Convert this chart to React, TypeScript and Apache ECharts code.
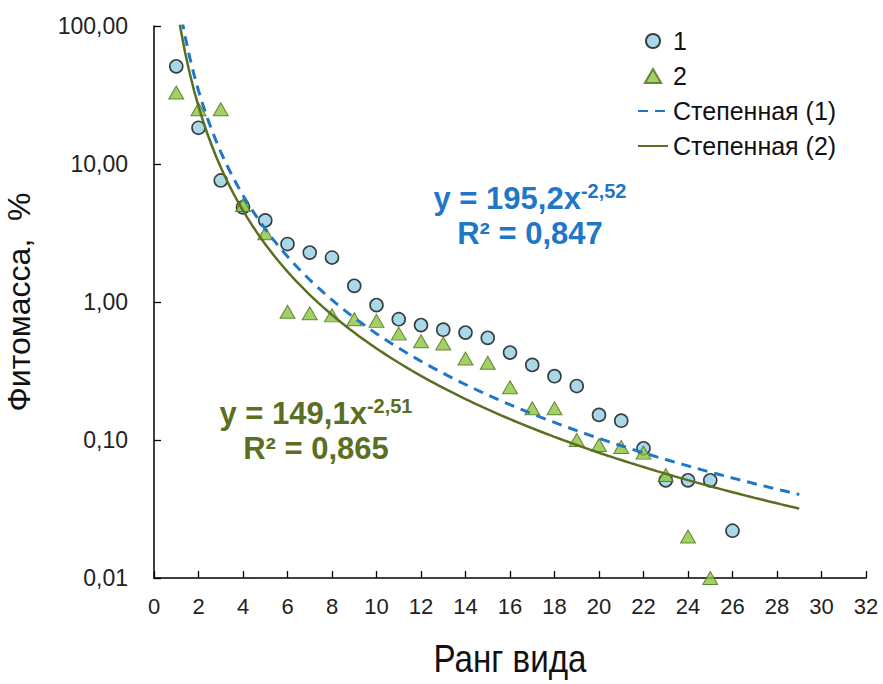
import React, { useEffect, useRef } from "react";
import * as echarts from "echarts";

// Rank (x) and phytomass % (y) for sample 1 (circles)
const ranks1 = [1, 2, 3, 4, 5, 6, 7, 8, 9, 10, 11, 12, 13, 14, 15, 16, 17, 18, 19, 20, 21, 22, 23, 24, 25, 26];
const values1 = [51, 18.3, 7.6, 4.85, 3.9, 2.63, 2.28, 2.1, 1.31, 0.95, 0.75, 0.68, 0.63, 0.6, 0.55, 0.43, 0.35, 0.29, 0.246, 0.152, 0.138, 0.087, 0.051, 0.051, 0.051, 0.022];

// Sample 2 (triangles)
const ranks2 = [1, 2, 3, 4, 5, 6, 7, 8, 9, 10, 11, 12, 13, 14, 15, 16, 17, 18, 19, 20, 21, 22, 23, 24, 25];
const values2 = [33, 24.9, 24.9, 5.05, 3.15, 0.85, 0.83, 0.8, 0.75, 0.73, 0.59, 0.52, 0.5, 0.39, 0.363, 0.241, 0.17, 0.17, 0.1, 0.092, 0.089, 0.081, 0.0557, 0.02, 0.01];

// Power trend lines shown on the chart: y = a * x^b
const fit1A = 195.2;
const fit1B = -2.52;
const fit2A = 149.1;
const fit2B = -2.51;
const fitFrom = 1;
const fitTo = 29;

const legendNames = ["1", "2", "Степенная (1)", "Степенная (2)"];
const eq1 = ["y = 195,2x", "-2,52", "R² = 0,847"];
const eq2 = ["y = 149,1x", "-2,51", "R² = 0,865"];
const xTitle = "Ранг вида";
const yTitle = "Фитомасса,  %";

const BLUE = "#1f77c8";
const OLIVE = "#5a6f22";
const FONT = "Arial, 'Liberation Sans', sans-serif";
const TRI_PATH = "path://M7,0 L14,12 L0,12 Z";

function fitCurve(a: number, b: number): [number, number][] {
  const pts: [number, number][] = [];
  const steps = 140;
  for (let i = 0; i <= steps; i++) {
    const x = fitFrom + ((fitTo - fitFrom) * i) / steps;
    pts.push([x, a * Math.pow(x, b)]);
  }
  return pts;
}

function eqText(eq: string[], color: string, x: number, y: number) {
  return {
    type: "text",
    x,
    y,
    z: 10,
    style: {
      text: `{a|${eq[0]}}{s|${eq[1]}}\n{a|${eq[2]}}`,
      align: "center",
      verticalAlign: "middle",
      fill: color,
      rich: {
        a: { fontFamily: FONT, fontWeight: "bold", fontSize: 31, lineHeight: 35, fill: color },
        s: { fontFamily: FONT, fontWeight: "bold", fontSize: 20, lineHeight: 21, verticalAlign: "top", fill: color },
      },
    },
  };
}

export default function App() {
  const ref = useRef<HTMLDivElement>(null);

  useEffect(() => {
    if (!ref.current) return;
    const chart = echarts.init(ref.current, undefined, { renderer: "svg" });
    const d1 = ranks1.map((r, i) => [r, values1[i]]);
    const d2 = ranks2.map((r, i) => [r, values2[i]]);

    chart.setOption({
      animation: false,
      backgroundColor: "#ffffff",
      grid: { left: 154, right: 17, top: 26, bottom: 106, containLabel: false, outerBoundsMode: "none" },
      legend: {
        orient: "vertical",
        left: 632,
        top: 22,
        itemWidth: 30,
        itemHeight: 14,
        itemGap: 7,
        symbolKeepAspect: true,
        data: [
          { name: legendNames[0], icon: "circle" },
          { name: legendNames[1], icon: TRI_PATH },
          { name: legendNames[2], itemStyle: { opacity: 0 } },
          { name: legendNames[3], itemStyle: { opacity: 0 } },
        ],
        textStyle: { fontFamily: FONT, fontSize: 25, color: "#111", lineHeight: 28 },
      },
      xAxis: {
        type: "value",
        min: 0,
        max: 32,
        interval: 2,
        axisLine: { show: true, lineStyle: { color: "#000", width: 1.5 } },
        axisTick: { show: true, inside: true, length: 7, lineStyle: { color: "#000", width: 1.3 } },
        axisLabel: { fontFamily: FONT, fontSize: 22, color: "#222", margin: 17 },
        splitLine: { show: false },
      },
      yAxis: {
        type: "log",
        logBase: 10,
        min: 0.01,
        max: 100,
        name: yTitle,
        nameLocation: "middle",
        nameRotate: 90,
        nameGap: 119,
        nameTextStyle: { fontFamily: FONT, fontSize: 32, color: "#111" },
        axisLine: { show: true, lineStyle: { color: "#000", width: 1.5 } },
        axisTick: { show: true, inside: true, length: 7, lineStyle: { color: "#000", width: 1.3 } },
        axisLabel: {
          fontFamily: FONT,
          fontSize: 23,
          color: "#222",
          margin: 26,
          formatter: (v: number) => v.toFixed(2).replace(".", ","),
        },
        splitLine: { show: false },
      },
      series: [
        {
          name: "1",
          type: "scatter",
          data: d1,
          symbol: "circle",
          symbolSize: 13,
          itemStyle: { color: "#93d0e3", borderColor: "#111", borderWidth: 1.6 },
          z: 2,
        },
        {
          name: "2",
          type: "scatter",
          data: d2,
          symbol: "triangle",
          symbolSize: [15, 13],
          itemStyle: { color: "#8dc53f", borderColor: "#4e6d1a", borderWidth: 1 },
          z: 3,
        },
        {
          name: "Степенная (1)",
          type: "line",
          data: fitCurve(fit1A, fit1B),
          symbol: "none",
          showSymbol: false,
          clip: true,
          lineStyle: { color: BLUE, width: 3, type: [10, 7] },
          itemStyle: { color: BLUE },
          z: 4,
        },
        {
          name: "Степенная (2)",
          type: "line",
          data: fitCurve(fit2A, fit2B),
          symbol: "none",
          showSymbol: false,
          clip: true,
          lineStyle: { color: OLIVE, width: 2.5, type: "solid" },
          itemStyle: { color: OLIVE },
          z: 5,
        },
      ],
      graphic: [
        eqText(eq1, BLUE, 530, 216),
        eqText(eq2, OLIVE, 316, 431),
        {
          type: "text",
          x: 510,
          y: 659,
          scaleX: 0.85,
          style: { text: xTitle, font: `39px ${FONT}`, fill: "#111", align: "center", verticalAlign: "middle" },
        },
      ],
    });
    return () => chart.dispose();
  }, []);

  return (
    <div
      ref={ref}
      style={{ position: "fixed", left: 0, top: 0, width: 883, height: 684, background: "#fff" }}
    />
  );
}
